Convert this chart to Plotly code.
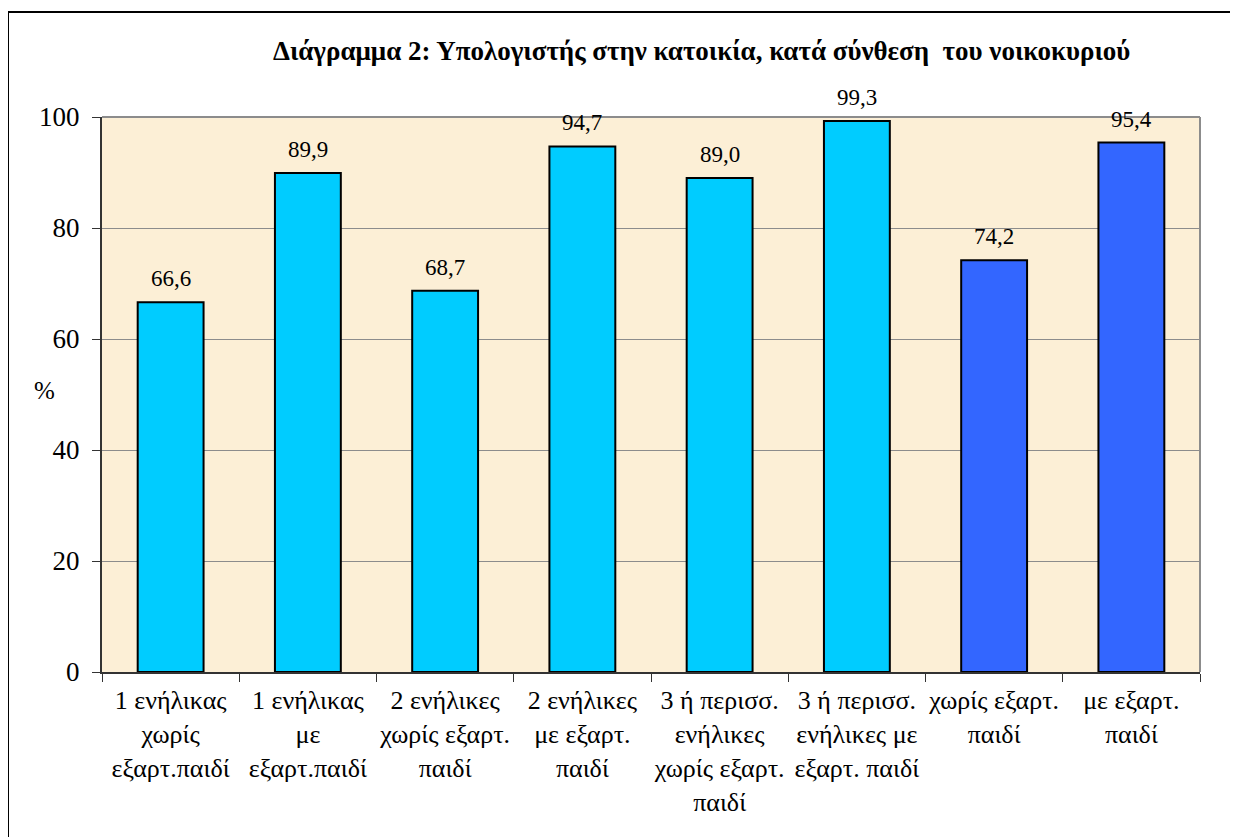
import plotly.graph_objects as go

categories = [
    "1 ενήλικας<br>χωρίς<br>εξαρτ.παιδί",
    "1 ενήλικας<br>με<br>εξαρτ.παιδί",
    "2 ενήλικες<br>χωρίς εξαρτ.<br>παιδί",
    "2 ενήλικες<br>με εξαρτ.<br>παιδί",
    "3 ή περισσ.<br>ενήλικες<br>χωρίς εξαρτ.<br>παιδί",
    "3 ή περισσ.<br>ενήλικες με<br>εξαρτ. παιδί",
    "χωρίς εξαρτ.<br>παιδί",
    "με εξαρτ.<br>παιδί",
]
values = [66.6, 89.9, 68.7, 94.7, 89.0, 99.3, 74.2, 95.4]
bar_colors = ["#00CCFF"] * 6 + ["#3366FF"] * 2
labels = [f"{v:.1f}".replace(".", ",") for v in values]
title = "Διάγραμμα 2: Υπολογιστής στην κατοικία, κατά σύνθεση  του νοικοκυριού"

FONT = "Liberation Serif"

# page body has an 8px margin; figure coordinates = page coordinates - 8
OFF = 8
L, R, T, B = 102 - OFF, 1200 - OFF, 117 - OFF, 672 - OFF
W, H = 1230, 829
PW, PH = R - L, B - T

fig = go.Figure(go.Bar(
    x=categories, y=values,
    marker=dict(color=bar_colors, line=dict(color="black", width=2)),
    width=0.48,
))

for c, v, t in zip(categories, values, labels):
    fig.add_annotation(x=c, y=v, text=t, showarrow=False, yanchor="bottom",
                       yshift=9, font=dict(family=FONT, size=23, color="black"))

fig.update_layout(
    width=W, height=H,
    paper_bgcolor="white", plot_bgcolor="#FCEFD6",
    margin=dict(l=L, r=W - R, t=T, b=H - B),
    showlegend=False,
    font=dict(family=FONT, color="black"),
)
fig.update_yaxes(
    range=[0, 100], tickvals=[0, 20, 40, 60, 80, 100],
    showgrid=True, gridcolor="#8C8C8C", gridwidth=1,
    showline=True, linecolor="#333333", linewidth=2,
    ticks="outside", ticklen=8, tickcolor="#333333",
    tickfont=dict(family=FONT, size=27), ticklabelstandoff=7,
    zeroline=False,
)
fig.update_xaxes(
    type="category", tickson="boundaries",
    showline=True, linecolor="#333333", linewidth=2,
    ticks="outside", ticklen=8, tickcolor="#333333",
    tickfont=dict(family=FONT, size=26), tickangle=0, ticklabelstandoff=4,
)
fig.add_shape(type="line", xref="paper", yref="paper", x0=0, x1=1, y0=1, y1=1,
              line=dict(color="#8C8C8C", width=2))
fig.add_shape(type="line", xref="paper", yref="paper", x0=1, x1=1, y0=0, y1=1,
              line=dict(color="#8C8C8C", width=2))
# outer frame (left/top visible, right/bottom beyond view)
fig.add_shape(type="rect", xref="paper", yref="paper",
              x0=(8 - 102) / PW, x1=1.2, y0=-0.5, y1=1 + (117 - 12) / PH,
              line=dict(color="black", width=2), layer="below")
fig.add_annotation(text="<b>" + title + "</b>", xref="paper", yref="paper",
                   x=(701 - 102) / PW, y=1 + (117 - 51) / PH, showarrow=False,
                   font=dict(family=FONT, size=27), xanchor="center", yanchor="middle")
fig.add_annotation(text="%", xref="paper", yref="paper",
                   x=-(102 - 44) / PW, y=(672 - 390) / PH, showarrow=False,
                   font=dict(family=FONT, size=25), xanchor="center", yanchor="middle")

fig.write_html("out.html")
